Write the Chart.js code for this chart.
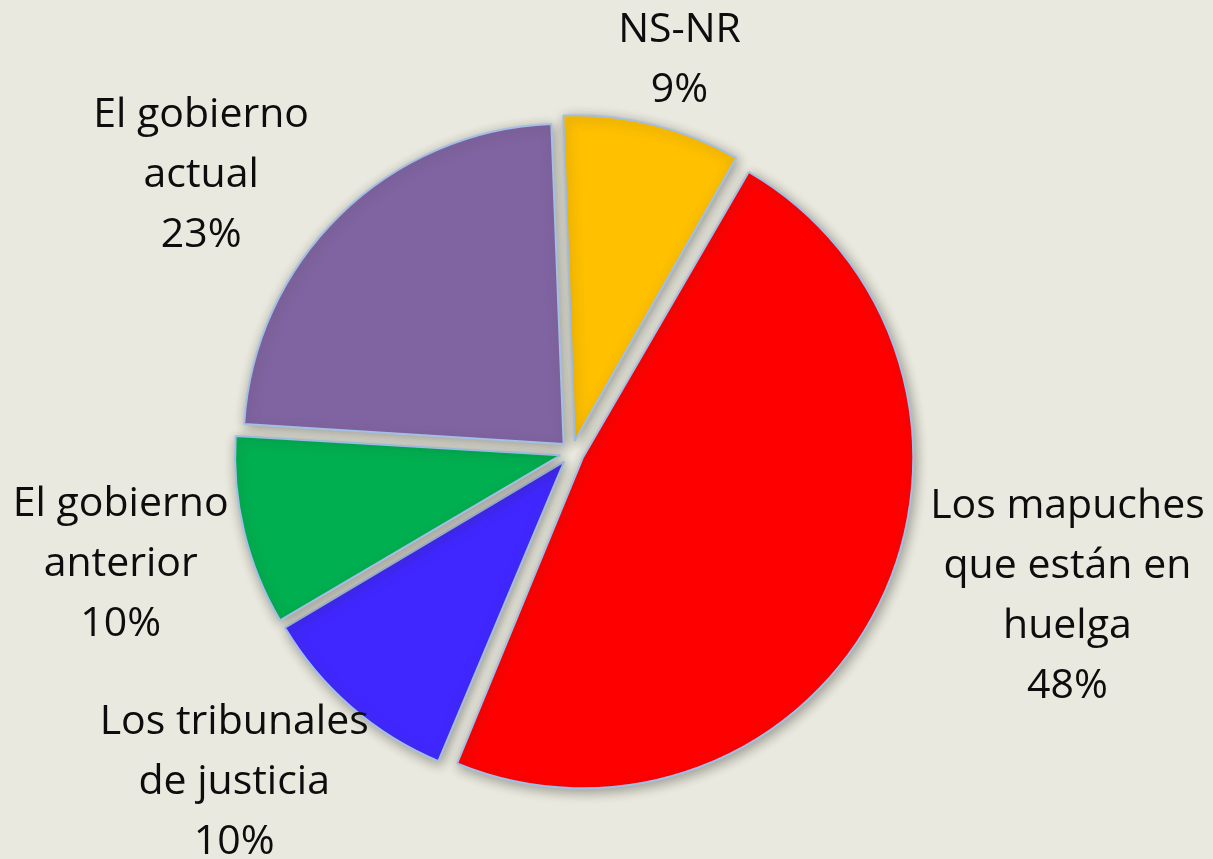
<!DOCTYPE html>
<html>
<head>
<meta charset="utf-8">
<script src="https://cdn.jsdelivr.net/npm/chart.js@4/dist/chart.umd.min.js"></script>
<style>
  html, body { margin: 0; padding: 0; background: #eae9df; }
  #wrap { width: 1213px; height: 859px; position: relative; }
</style>
</head>
<body>
<div id="wrap"><canvas id="pieChart"></canvas></div>
<script>
// data
const categories = [
  ['NS-NR'],
  ['Los mapuches', 'que están en', 'huelga'],
  ['Los tribunales', 'de justicia'],
  ['El gobierno', 'anterior'],
  ['El gobierno', 'actual']
];
const shares = [8.9, 48.0, 10.2, 9.5, 23.4];
const percentLabels = ['9%', '48%', '10%', '10%', '23%'];

const sliceColors = ['#ffc000', '#ff0000', '#4027ff', '#00b050', '#8064a2'];
// label placement: angle nudge (deg) from slice middle, distance from centre (px)
const labelNudge = [1.5, -10, 4.7, -0.4, -8.9];
const labelDist = [407, 516, 472, 465, 463];

const shadowPlugin = {
  id: 'sliceShadow',
  beforeDatasetsDraw(chart) {
    const ctx = chart.ctx;
    ctx.save();
    ctx.shadowColor = 'rgba(60, 60, 50, 0.45)';
    ctx.shadowBlur = 12;
    ctx.shadowOffsetX = 2;
    ctx.shadowOffsetY = 3;
  },
  afterDatasetsDraw(chart) {
    chart.ctx.restore();
  }
};

const labelPlugin = {
  id: 'outsideLabels',
  afterDraw(chart) {
    const ctx = chart.ctx;
    const arcs = chart.getDatasetMeta(0).data;
    ctx.save();
    ctx.fillStyle = '#0d0d0d';
    ctx.font = "41px 'Open Sans', sans-serif";
    ctx.textAlign = 'center';
    ctx.textBaseline = 'middle';
    const lineH = 60;
    arcs.forEach(function (arc, i) {
      const mid = (arc.startAngle + arc.endAngle) / 2 + labelNudge[i] * Math.PI / 180;
      const x = arc.x + Math.cos(mid) * labelDist[i];
      const y = arc.y + Math.sin(mid) * labelDist[i];
      const lines = categories[i].concat([percentLabels[i]]);
      const top = y - (lines.length - 1) * lineH / 2;
      lines.forEach(function (t, k) {
        ctx.fillText(t, x, top + k * lineH);
      });
    });
    ctx.restore();
  }
};

new Chart(document.getElementById('pieChart'), {
  type: 'pie',
  data: {
    labels: categories.map(c => c.join(' ')),
    datasets: [{
      data: shares,
      backgroundColor: sliceColors,
      borderColor: '#a3bfe6',
      borderWidth: 2,
      offset: 48
    }]
  },
  options: {
    responsive: true,
    maintainAspectRatio: false,
    animation: false,
    rotation: -2.2,
    radius: 320,
    layout: { padding: { left: 0, right: 69, top: 46, bottom: 0 } },
    plugins: {
      legend: { display: false },
      tooltip: { enabled: false }
    }
  },
  plugins: [shadowPlugin, labelPlugin]
});
</script>
</body>
</html>
